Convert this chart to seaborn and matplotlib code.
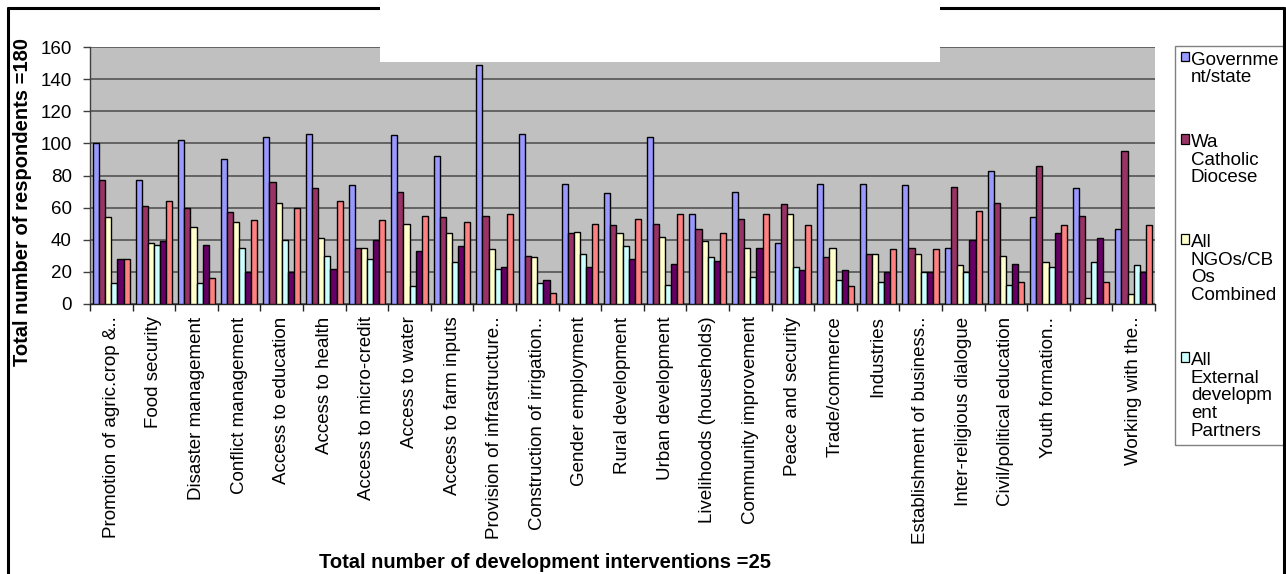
import matplotlib
matplotlib.use("Agg")
import matplotlib.pyplot as plt
from matplotlib.lines import Line2D
from matplotlib.patches import Rectangle, Patch
from matplotlib.ticker import FixedLocator, MultipleLocator
import pandas as pd
import seaborn as sns

# Development interventions (x categories)
interventions = [
    "Promotion of agric.crop &..", "Food security", "Disaster management",
    "Conflict management", "Access to education", "Access to health",
    "Access to micro-credit", "Access to water", "Access to farm inputs",
    "Provision of infrastructure..", "Construction of irrigation..",
    "Gender employment", "Rural development", "Urban development",
    "Livelihoods (households)", "Community improvement", "Peace and security",
    "Trade/commerce", "Industries", "Establishment of business..",
    "Inter-religious dialogue", "Civil/political education", "Youth formation..",
    "", "Working with the..",
]

# Providers (series)
groups = ["Government/state", "Wa Catholic Diocese", "All NGOs/CBOs Combined",
          "All External development Partners", "Group 5", "Group 6"]
legend_labels = ["Governme\nnt/state", "Wa\nCatholic\nDiocese",
                 "All\nNGOs/CB\nOs\nCombined",
                 "All\nExternal\ndevelopm\nent\nPartners"]

government = [100, 77, 102, 90, 104, 106, 74, 105, 92, 149, 106, 75, 69,
              104, 56, 70, 38, 75, 75, 74, 35, 83, 54, 72, 47]
catholic_diocese = [77, 61, 60, 57, 76, 72, 35, 70, 54, 55, 30, 44, 49,
                    50, 47, 53, 62, 29, 31, 35, 73, 63, 86, 55, 95]
ngos_cbos = [54, 38, 48, 51, 63, 41, 35, 50, 44, 34, 29, 45, 44,
             42, 39, 35, 56, 35, 31, 31, 24, 30, 26, 4, 6]
external_partners = [13, 37, 13, 35, 40, 30, 28, 11, 26, 22, 13, 31, 36,
                     12, 29, 17, 23, 15, 14, 20, 20, 12, 23, 26, 24]
group_5 = [28, 39, 37, 20, 20, 22, 40, 33, 36, 23, 15, 23, 28,
           25, 27, 35, 21, 21, 20, 20, 40, 25, 44, 41, 20]
group_6 = [28, 64, 16, 52, 60, 64, 52, 55, 51, 56, 7, 50, 53,
           56, 44, 56, 49, 11, 34, 34, 58, 14, 49, 14, 49]

colors = ["#9999FF", "#993366", "#FFFFCC", "#CCFFFF", "#660066", "#FF8080"]

series = [government, catholic_diocese, ngos_cbos, external_partners, group_5, group_6]
df = pd.DataFrame({
    "intervention": interventions * len(groups),
    "group": [g for g in groups for _ in interventions],
    "respondents": [v for s in series for v in s],
})

sns.set_theme(style="ticks")
plt.rcParams["font.family"] = ["Liberation Sans", "DejaVu Sans"]
plt.rcParams.update({"text.color": "black", "axes.labelcolor": "black",
                     "xtick.color": "black", "ytick.color": "black"})

W, H = 1286, 574
fig = plt.figure(figsize=(W / 100, H / 100), dpi=100)
fig.patch.set_facecolor("white")
ax = fig.add_axes([90 / W, 1 - 304 / H, (1155 - 90) / W, (304 - 47) / H])
ax.set_facecolor("#C0C0C0")

sns.barplot(data=df, x="intervention", y="respondents", hue="group",
            order=interventions, hue_order=groups, palette=colors,
            width=0.86, saturation=1, edgecolor="black", linewidth=1.0,
            legend=False, ax=ax, zorder=3)

ax.set_xlim(-0.5, len(interventions) - 0.5)
ax.set_ylim(0, 160)
ax.yaxis.set_major_locator(MultipleLocator(20))
ax.yaxis.grid(True, color="#5c5c5c", linewidth=1.3, zorder=0)
ax.xaxis.grid(False)
ax.set_axisbelow(True)

for side in ("top", "right"):
    ax.spines[side].set_visible(False)
ax.spines["left"].set_color("#404040")
ax.spines["bottom"].set_color("#202020")
ax.spines["left"].set_linewidth(1.0)
ax.spines["bottom"].set_linewidth(1.0)

# Category labels without tick marks; tick marks sit on the group boundaries
ax.tick_params(axis="x", which="major", length=0, pad=9, labelsize=13.5,
               labelrotation=90, labelcolor="black")
ax.xaxis.set_minor_locator(FixedLocator([i - 0.5 for i in range(len(interventions) + 1)]))
ax.tick_params(axis="x", which="minor", length=5, width=1, color="#202020", direction="out")
ax.tick_params(axis="y", length=5, width=1, color="#404040", pad=8, labelsize=13.5,
               labelcolor="black")
for lbl in ax.get_xticklabels():
    lbl.set_verticalalignment("top")

ax.set_xlabel("Total number of development interventions =25",
              fontsize=14.5, fontweight="bold", va="center")
ax.xaxis.set_label_coords((545 - 90) / (1155 - 90), (304 - 562) / (304 - 47))
ax.set_ylabel("Total number of respondents =180", fontsize=14.5,
              fontweight="bold", va="center")
ax.yaxis.set_label_coords((23 - 90) / (1155 - 90), (304 - 202) / (304 - 47))

handles = [Patch(facecolor=c, edgecolor="black", linewidth=0.9) for c in colors[:4]]
leg = fig.legend(handles, legend_labels, loc="upper left",
                 bbox_to_anchor=(1175 / W, 1 - 46 / H), bbox_transform=fig.transFigure,
                 fontsize=13.5, frameon=True, fancybox=False, edgecolor="#808080",
                 framealpha=1, handlelength=0.42, handleheight=0.42,
                 handletextpad=0.12, labelspacing=2.55, borderpad=0.3,
                 borderaxespad=0)
leg.get_frame().set_linewidth(1.0)
# Keep each swatch level with the first line of its label
for box in leg._legend_handle_box.get_children():
    for entry in box.get_children():
        entry.align = "top"
for t in leg.get_texts():
    t.set_linespacing(1.05)

# Chart frame and the blank title panel
frame_kw = dict(color="black", linewidth=2.2, transform=fig.transFigure, zorder=10)
fig.add_artist(Line2D([8 / W, 8 / W], [0, 1 - 8 / H], **frame_kw))
fig.add_artist(Line2D([8 / W, 1284 / W], [1 - 8 / H, 1 - 8 / H], **frame_kw))
fig.add_artist(Line2D([1284 / W, 1284 / W], [0, 1 - 8 / H], **frame_kw))
fig.add_artist(Rectangle((380 / W, 1 - 62 / H), (940 - 380) / W, 62 / H,
                         facecolor="white", edgecolor="none",
                         transform=fig.transFigure, zorder=20))

fig.savefig("out.png", dpi=100)
